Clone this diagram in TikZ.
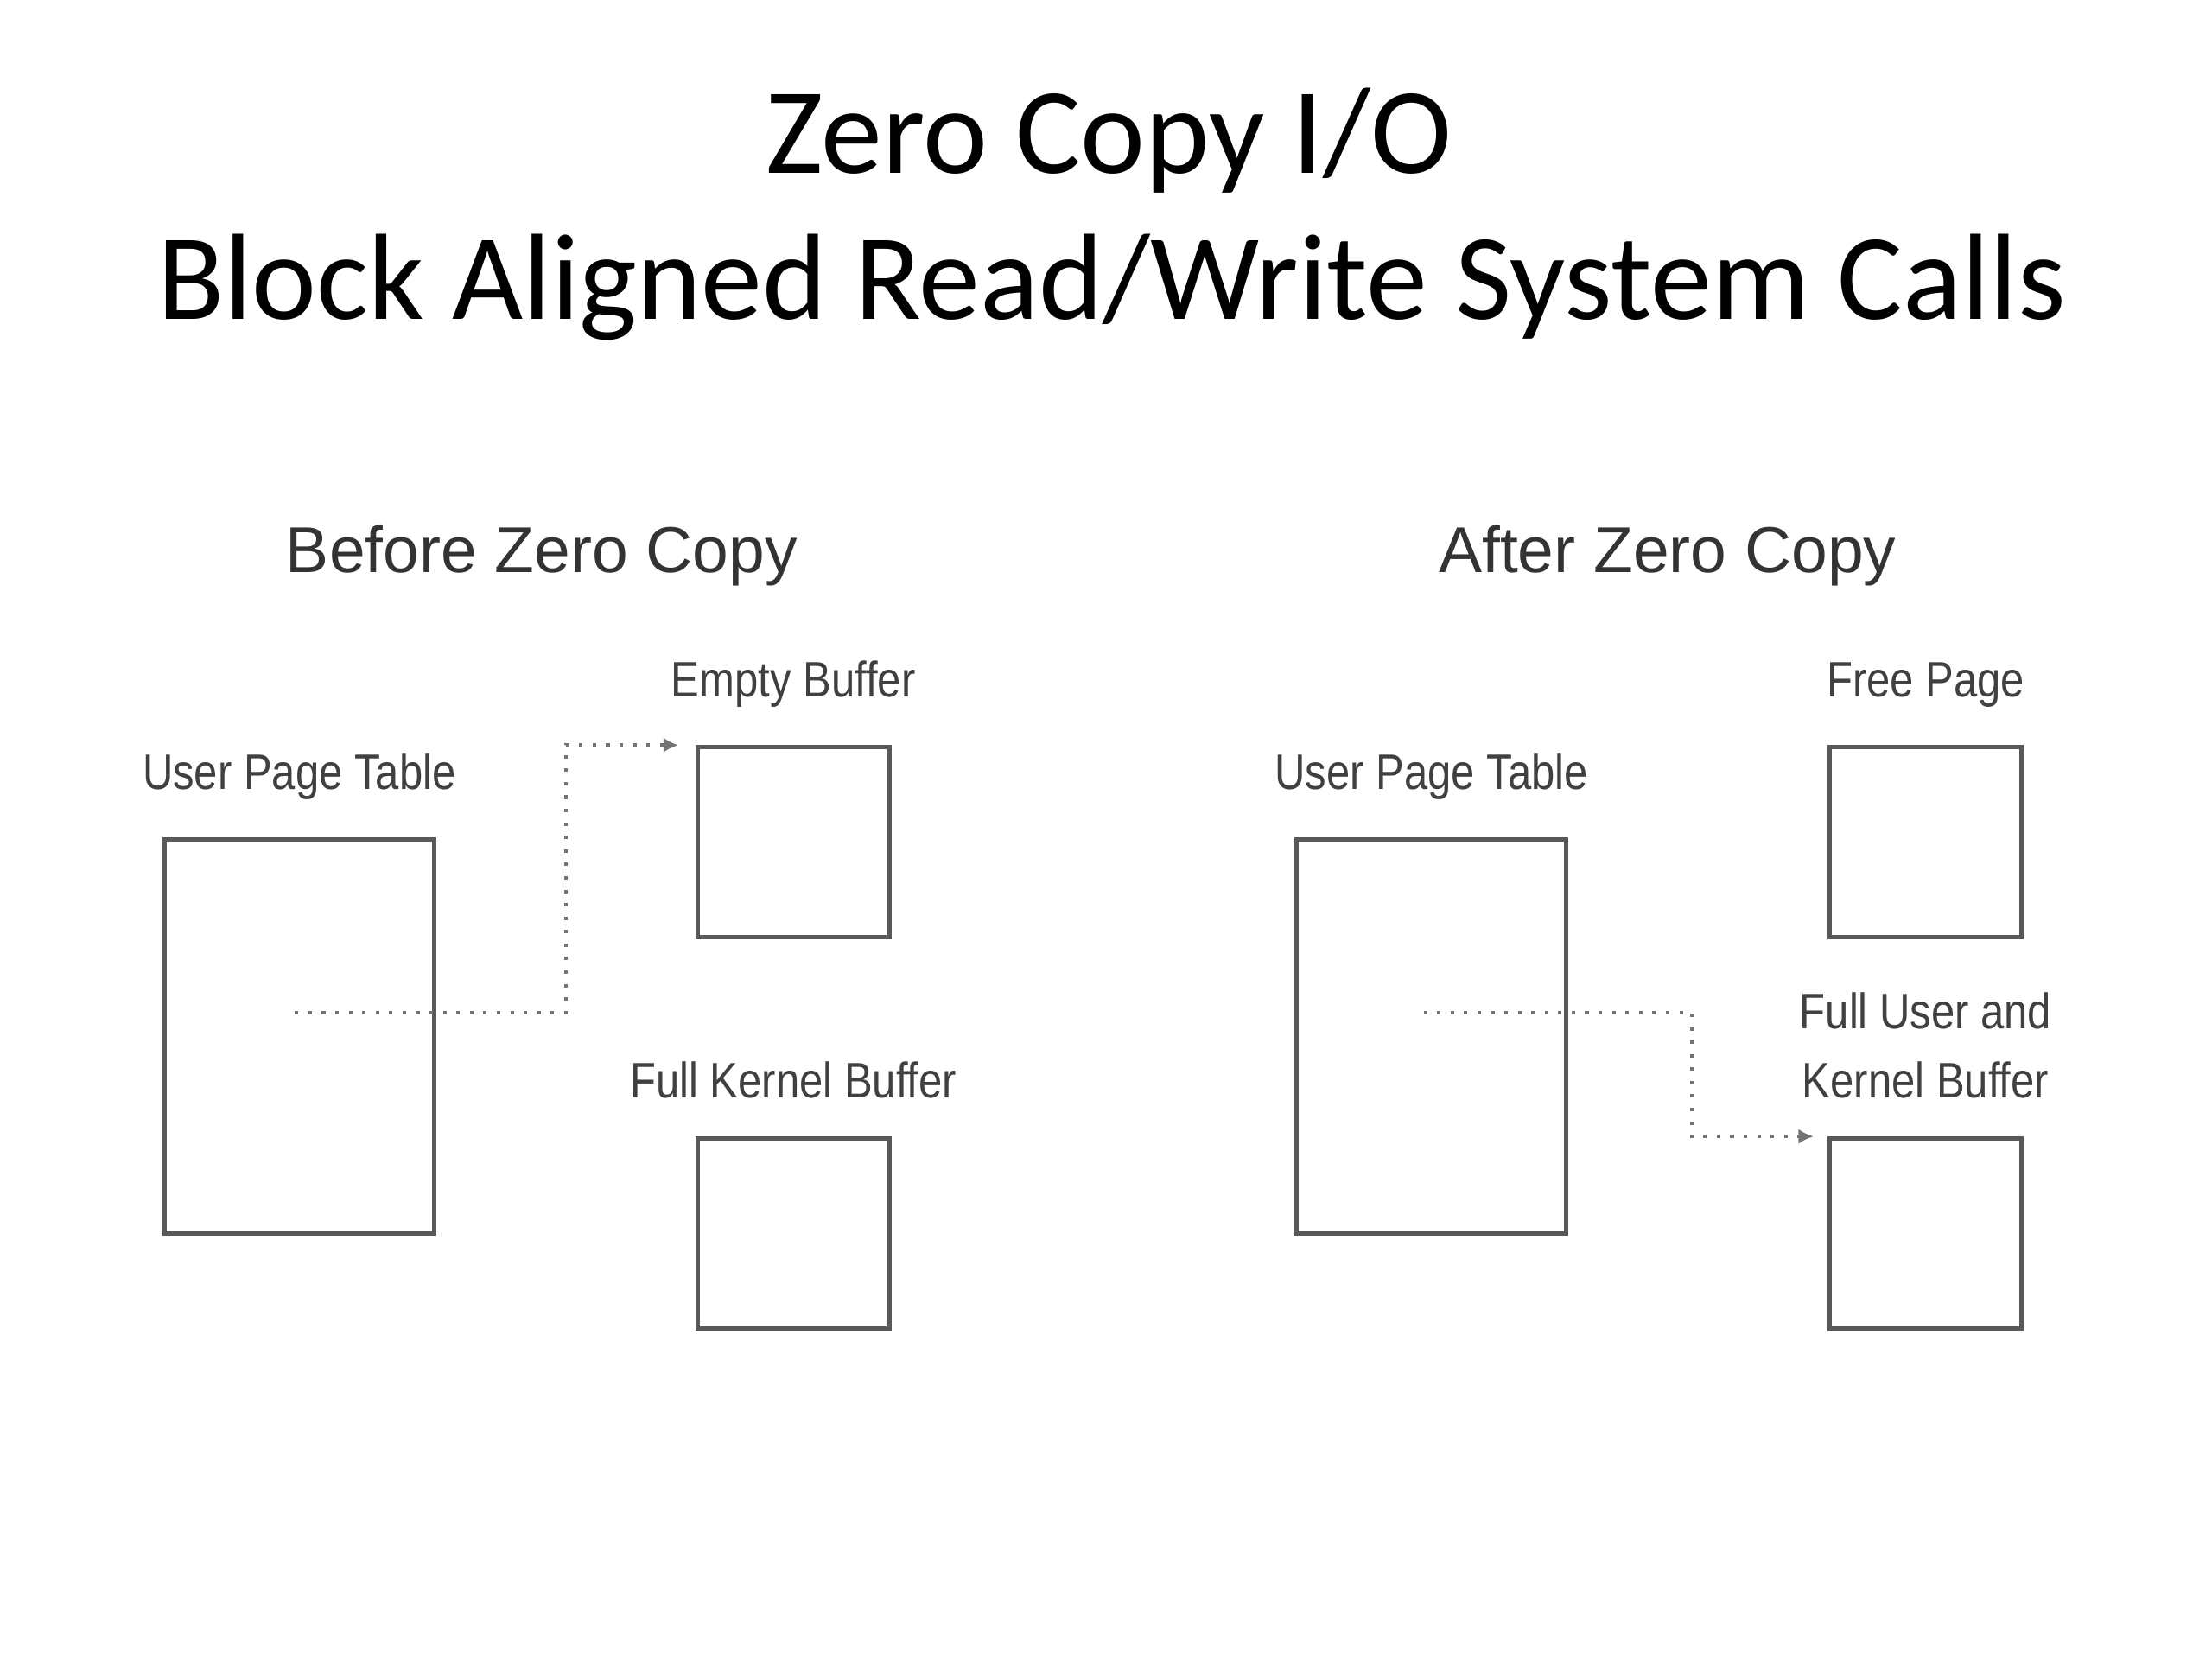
\documentclass[tikz,border=0pt]{standalone}
\usepackage{fontspec}
\setmainfont{Carlito}
\newfontfamily\lblfont[FakeStretch=0.85]{Liberation Sans}
\newfontfamily\headfont{Liberation Sans}
\usetikzlibrary{arrows.meta, positioning}
\tikzset{
	buf/.style={draw=black!65, line width=0.9pt, minimum width=1.35cm, minimum height=1.34cm, inner sep=0pt},
	pagetab/.style={draw=black!65, line width=0.9pt, minimum width=1.9cm, minimum height=2.78cm, inner sep=0pt},
	lbl/.style={font=\lblfont\fontsize{10}{14}\selectfont, text=black!75, inner sep=0pt, align=center},
	head/.style={font=\headfont\fontsize{13}{15}\selectfont, text=black!80},
	conn/.style={draw=black!55, dotted, line width=0.7pt, -{Latex[length=3pt, width=3pt]}}
}

\begin{document}
\begin{tikzpicture}
	\useasboundingbox (0,0) rectangle (15.6,-11.7);
	% title
	\node[font=\fontsize{24.6}{30}\selectfont, anchor=base] (title1) at (7.82,-1.22) {Zero Copy I/O};
	\node[font=\fontsize{24.6}{30}\selectfont, anchor=base] (title2) at (7.84,-2.25) {Block Aligned Read/Write System Calls};
	% the two panels
	\foreach \side/\dx/\hx/\txt in {L/0/3.82/Before Zero Copy, R/7.985/11.76/After Zero Copy} {
		\node[head] (head\side) at (\hx,-3.92) {\txt};
		\node[pagetab] (tab\side) at (2.11+\dx,-7.31) {};
		\node[lbl, above=0.26cm of tab\side] (tablbl\side) {User Page Table};
	}
	% before
	\node[buf] (empty) at (5.595,-5.94) {};
	\node[buf] (kern) at (5.595,-8.70) {};
	\node[lbl, above=0.26cm of empty] (emptylbl) {Empty Buffer};
	\node[lbl, above=0.26cm of kern] (kernlbl) {Full Kernel Buffer};
	% after
	\node[buf] (free) at (13.58,-5.94) {};
	\node[buf] (full) at (13.58,-8.70) {};
	\node[lbl, above=0.26cm of free] (freelbl) {Free Page};
	\node[lbl, above=0.26cm of full] (fulllbl) {Full User and\\Kernel Buffer};
	% mappings
	\coordinate (srcL) at (2.08,-7.14);
	\coordinate (turnL) at (3.99,-7.14);
	\coordinate (srcR) at (10.04,-7.14);
	\coordinate (turnR) at (11.93,-7.14);
	\draw[conn] (srcL) -- (turnL) |- ([xshift=-0.12cm]empty.north west);
	\draw[conn] (srcR) -- (turnR) |- ([xshift=-0.1cm]full.north west);
\end{tikzpicture}
\end{document}
